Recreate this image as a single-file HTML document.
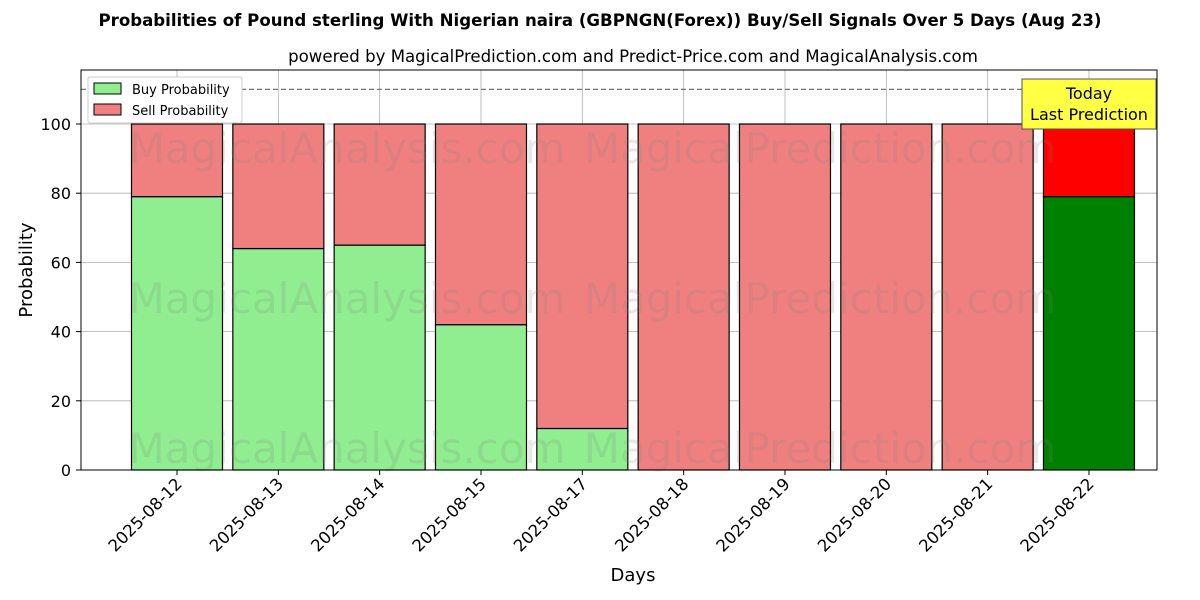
<!DOCTYPE html>
<html><head><meta charset="utf-8"><style>
html,body{margin:0;padding:0;background:#fff;}
svg{display:block;font-family:"DejaVu Sans","Liberation Sans",sans-serif;}
</style></head><body>
<svg id="chart" width="1200" height="600" viewBox="0 0 1200 600" xmlns="http://www.w3.org/2000/svg">
<text x="600" y="26" text-anchor="middle" font-size="16.6" font-weight="bold">Probabilities of Pound sterling With Nigerian naira (GBPNGN(Forex)) Buy/Sell Signals Over 5 Days (Aug 23)</text>
<text x="633" y="62" text-anchor="middle" font-size="16.6">powered by MagicalPrediction.com and Predict-Price.com and MagicalAnalysis.com</text>
<g id="grid"></g>
<g id="bars"></g>
<g id="watermarks" font-size="42" fill="#808080" opacity="0.18">
<text x="347" y="163" text-anchor="middle">MagicalAnalysis.com</text>
<text x="820" y="163" text-anchor="middle">MagicalPrediction.com</text>
<text x="347" y="313" text-anchor="middle">MagicalAnalysis.com</text>
<text x="820" y="313" text-anchor="middle">MagicalPrediction.com</text>
<text x="347" y="463" text-anchor="middle">MagicalAnalysis.com</text>
<text x="820" y="463" text-anchor="middle">MagicalPrediction.com</text>
</g>
<g id="axes"></g>
<line x1="81" x2="1157" y1="89.4" y2="89.4" stroke="#777" stroke-dasharray="5,3" stroke-width="1.2"/>
<rect x="81" y="70" width="1076" height="400" fill="none" stroke="#000" stroke-width="1"/>
<g>
<rect x="1022" y="79" width="134" height="50" fill="#ffff44" stroke="#555" stroke-width="1"/>
<text x="1089" y="99" text-anchor="middle" font-size="16">Today</text>
<text x="1089" y="120" text-anchor="middle" font-size="16">Last Prediction</text>
</g>
<g>
<rect x="88" y="77" width="154" height="46" fill="#fff" stroke="#ccc" rx="2"/>
<g><rect x="94" y="83" width="27" height="11" fill="#90ee90" stroke="#000"/><text x="132" y="94" font-size="13">Buy Probability</text></g>
<g><rect x="94" y="104" width="27" height="11" fill="#f08080" stroke="#000"/><text x="132" y="115" font-size="13">Sell Probability</text></g>
</g>
<text x="633" y="581" text-anchor="middle" font-size="18">Days</text>
<text transform="translate(32,270) rotate(-90)" text-anchor="middle" font-size="18">Probability</text>
</svg>
<script>
const categories=["2025-08-12","2025-08-13","2025-08-14","2025-08-15","2025-08-17","2025-08-18","2025-08-19","2025-08-20","2025-08-21","2025-08-22"];
const buyValues=[79,64,65,42,12,0,0,0,0,79];
const sellValues=[21,36,35,58,88,100,100,100,100,21];
const yTicks=[0,20,40,60,80,100];
const NS="http://www.w3.org/2000/svg";
const xScale=i=>177+i*101.33;
const yScale=v=>470-v*3.46;
const bw=91;
function mk(t,a,p){const e=document.createElementNS(NS,t);for(const k in a)e.setAttribute(k,a[k]);p.appendChild(e);return e;}
const grid=document.getElementById('grid'),bars=document.getElementById('bars'),axes=document.getElementById('axes');
yTicks.forEach(v=>{
 const y=yScale(v);
 const g=mk('line',{x1:81,x2:1157,y1:y,y2:y,stroke:'#b0b0b0','stroke-width':0.8},grid);
 
 
 mk('line',{x1:76,x2:81,y1:y,y2:y,stroke:'#000'},axes);
 const t=mk('text',{x:71,y:y+6,'text-anchor':'end','font-size':16},axes);
 
 
 t.textContent=v;
});
categories.forEach((c,i)=>{
 const x=xScale(i);
 const g=mk('line',{x1:x,x2:x,y1:70,y2:470,stroke:'#b0b0b0','stroke-width':0.8},grid);
 
 
 const last=i===categories.length-1;
 const b=mk('rect',{x:x-bw/2,y:yScale(buyValues[i]),width:bw,height:yScale(0)-yScale(buyValues[i]),fill:last?'#008000':'#90ee90',stroke:'#000','stroke-width':1.2},bars);
 
 
 const s=mk('rect',{x:x-bw/2,y:yScale(buyValues[i]+sellValues[i]),width:bw,height:yScale(buyValues[i])-yScale(buyValues[i]+sellValues[i]),fill:last?'#ff0000':'#f08080',stroke:'#000','stroke-width':1.2},bars);
 
 
 mk('line',{x1:x,x2:x,y1:470,y2:475,stroke:'#000'},axes);
 const t=mk('text',{x:x+6,y:485,'text-anchor':'end','font-size':16.5,transform:`rotate(-45 ${x+6} 485)`},axes);
 
 
 t.textContent=c;
});
</script>
</body></html>
